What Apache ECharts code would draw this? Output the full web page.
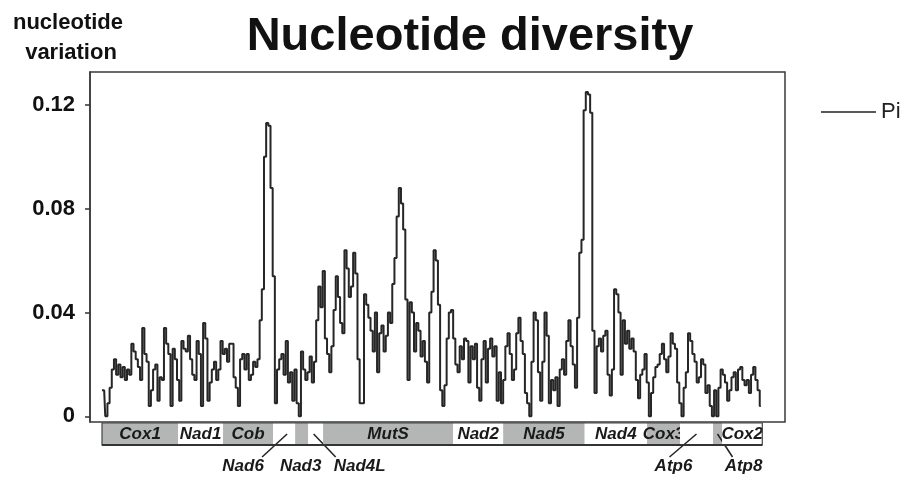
<!DOCTYPE html>
<html>
<head>
<meta charset="utf-8">
<title>Nucleotide diversity</title>
<script src="https://cdn.jsdelivr.net/npm/echarts@6/dist/echarts.min.js"></script>
<style>
  html, body { margin: 0; padding: 0; background: #fff; }
  #chart { width: 901px; height: 477px; }
</style>
</head>
<body>
<div id="chart"></div>
<script>
// sliding window Pi, one window every 60 bp along the mitogenome
const windowStep = 60
const pi = [
  0.010, 0.010, 0.000, 0.005, 0.011, 0.018, 0.022, 0.016, 0.020,
  0.015, 0.019, 0.014, 0.018, 0.016, 0.028, 0.025, 0.022, 0.019, 0.014,
  0.034, 0.024, 0.021, 0.004, 0.010, 0.018, 0.020, 0.006, 0.015, 0.014,
  0.034, 0.028, 0.024, 0.004, 0.026, 0.022, 0.014, 0.006, 0.029, 0.026,
  0.025, 0.031, 0.022, 0.016, 0.014, 0.029, 0.024, 0.004, 0.036, 0.030,
  0.006, 0.013, 0.018, 0.021, 0.014, 0.018, 0.029, 0.024, 0.026, 0.021,
  0.028,
  0.028, 0.015, 0.011, 0.004, 0.022, 0.024, 0.018, 0.024, 0.014, 0.016,
  0.021, 0.019, 0.022, 0.037, 0.049, 0.100, 0.113, 0.112, 0.088, 0.054,
  0.005, 0.018, 0.022, 0.024, 0.016, 0.029, 0.013, 0.017, 0.006, 0.018,
  0.005, 0.000, 0.025, 0.018, 0.014, 0.017, 0.023, 0.013, 0.021, 0.037,
  0.050, 0.042, 0.056, 0.030, 0.024, 0.017, 0.027, 0.041, 0.054, 0.046,
  0.036, 0.032, 0.064, 0.057, 0.046, 0.050, 0.063, 0.055, 0.022, 0.005,
  0.005, 0.047, 0.043, 0.038, 0.033, 0.025, 0.040, 0.017, 0.032, 0.035,
  0.025, 0.031, 0.040, 0.036, 0.051, 0.061, 0.077, 0.088, 0.082, 0.072,
  0.045, 0.014, 0.044, 0.040, 0.025, 0.036, 0.033, 0.023, 0.029, 0.021,
  0.013, 0.040, 0.048, 0.064, 0.060, 0.043, 0.010, 0.004, 0.012, 0.030,
  0.040, 0.041, 0.030, 0.020, 0.017, 0.027, 0.022, 0.030, 0.029, 0.013,
  0.027, 0.022, 0.028, 0.011, 0.006, 0.022, 0.029, 0.013, 0.026, 0.030,
  0.023,
  0.027, 0.006, 0.017, 0.005, 0.014, 0.027, 0.032, 0.024, 0.014, 0.018,
  0.032, 0.038, 0.029, 0.024, 0.009, 0.005, 0.000, 0.021, 0.040, 0.037,
  0.017, 0.006, 0.021, 0.040, 0.031, 0.005, 0.014, 0.010, 0.015, 0.004,
  0.018, 0.022, 0.016, 0.029, 0.037, 0.027, 0.020, 0.011, 0.038, 0.063,
  0.068, 0.118, 0.125, 0.124, 0.117, 0.033, 0.009, 0.027, 0.030, 0.025,
  0.031, 0.033, 0.016, 0.008, 0.018, 0.049, 0.047, 0.040, 0.016, 0.037,
  0.028,
  0.033, 0.026, 0.030, 0.025, 0.014, 0.007, 0.016, 0.018, 0.024, 0.013,
  0.000, 0.009, 0.015, 0.019, 0.020, 0.024, 0.028, 0.022, 0.017, 0.023,
  0.032, 0.028, 0.026, 0.013, 0.005, 0.000, 0.011, 0.017, 0.032, 0.029,
  0.024, 0.021, 0.013, 0.015, 0.022, 0.020, 0.009, 0.012, 0.004, 0.000,
  0.010, 0.000, 0.011, 0.018, 0.016, 0.013, 0.006, 0.010, 0.015, 0.017,
  0.010, 0.018, 0.019, 0.014, 0.012, 0.014, 0.009, 0.016, 0.019, 0.014,
  0.010, 0.004
]

const yTicks = [0, 0.04, 0.08, 0.12]
const yTickLabels = ['0', '0.04', '0.08', '0.12']

// gene map (bp)
const geneNames = ['Cox1', 'Nad1', 'Cob', 'Nad6', 'Nad3', 'Nad4L', 'MutS', 'Nad2', 'Nad5', 'Nad4', 'Cox3', 'Atp6', 'Atp8', 'Cox2']
const geneStart = [0, 2100, 3340, 4720, 5330, 5690, 6100, 9690, 11070, 13320, 15040, 15950, 16860, 17110]
const geneEnd = [2100, 3340, 4720, 5330, 5690, 6100, 9690, 11070, 13320, 15040, 15950, 16860, 17110, 18220]

// short genes get their name below the bar (offsets from segment centre, px)
const outsideLabels = {
  Nad6: { line: [3, -22], text: -41 },
  Nad3: { text: -1 },
  Nad4L: { line: [-2, 20], text: 44 },
  Atp6: { line: [0, -27], text: -23 },
  Atp8: { line: [0, 15], text: 26 }
}

const FONT = '"Liberation Sans", Arial, Helvetica, sans-serif'
const xMin = -331
const xMax = 18847

const chart = echarts.init(document.getElementById('chart'), null, { renderer: 'canvas' })

chart.setOption({
  animation: false,
  backgroundColor: '#fff',
  graphic: [
    { type: 'text', x: 470, y: 37, style: { text: 'Nucleotide diversity', font: 'bold 47px ' + FONT, fill: '#111', align: 'center', verticalAlign: 'middle' } },
    { type: 'text', x: 68, y: 23, style: { text: 'nucleotide', font: 'bold 22px ' + FONT, fill: '#111', align: 'center', verticalAlign: 'middle' } },
    { type: 'text', x: 71, y: 53, style: { text: 'variation', font: 'bold 22px ' + FONT, fill: '#111', align: 'center', verticalAlign: 'middle' } }
  ],
  legend: {
    data: ['Pi'],
    left: 816,
    top: 96,
    icon: 'rect',
    itemWidth: 55,
    itemHeight: 1.5,
    textStyle: { fontSize: 22, fontFamily: FONT, color: '#222' }
  },
  grid: [
    { left: 90, right: 116, top: 72, bottom: 55, show: true, borderColor: '#3a3a3a', borderWidth: 1.5 },
    { left: 90, right: 116, top: 423, height: 22 }
  ],
  xAxis: [
    { type: 'value', gridIndex: 0, min: xMin, max: xMax, show: false },
    { type: 'value', gridIndex: 1, min: xMin, max: xMax, show: false }
  ],
  yAxis: [
    {
      type: 'value',
      gridIndex: 0,
      min: -0.0022,
      max: 0.1327,
      splitLine: { show: false },
      axisLine: { show: true, onZero: false, lineStyle: { color: '#3a3a3a', width: 1.5 } },
      axisTick: { show: true, inside: false, length: 5, customValues: yTicks, lineStyle: { color: '#333', width: 1.5 } },
      axisLabel: {
        customValues: yTicks,
        formatter: v => {
          const i = yTicks.findIndex(t => Math.abs(t - v) < 1e-9)
          return i >= 0 ? yTickLabels[i] : ''
        },
        fontSize: 22,
        fontWeight: 'bold',
        fontFamily: FONT,
        color: '#111',
        margin: 15
      }
    },
    { type: 'value', gridIndex: 1, min: 0, max: 1, show: false }
  ],
  series: [
    {
      name: 'Pi',
      type: 'line',
      step: 'middle',
      symbol: 'none',
      color: '#222',
      xAxisIndex: 0,
      yAxisIndex: 0,
      lineStyle: { color: '#262626', width: 2 },
      data: pi.map((v, i) => [i * windowStep, v])
    },
    {
      type: 'custom',
      xAxisIndex: 1,
      yAxisIndex: 1,
      clip: false,
      silent: true,
      data: geneNames.map((n, i) => [geneStart[i], geneEnd[i]]),
      renderItem(params, api) {
        const s = api.coord([api.value(0), 1])
        const e = api.coord([api.value(1), 0])
        const name = geneNames[params.dataIndex]
        const w = e[0] - s[0]
        const h = e[1] - s[1]
        const cx = s[0] + w / 2
        const cy = s[1] + h / 2
        const font = 'italic bold 17px ' + FONT
        const children = [{
          type: 'rect',
          shape: { x: s[0], y: s[1], width: w, height: h },
          style: { fill: params.dataIndex % 2 ? '#ffffff' : '#b4b6b6' }
        }]
        const out = outsideLabels[name]
        if (!out) {
          children.push({ type: 'text', style: { text: name, x: cx, y: cy, align: 'center', verticalAlign: 'middle', font, fill: '#1a1a1a' } })
        } else {
          if (out.line) {
            children.push({ type: 'line', shape: { x1: cx + out.line[0], y1: cy, x2: cx + out.line[1], y2: e[1] + 12 }, style: { stroke: '#222', lineWidth: 1.5 } })
          }
          children.push({ type: 'text', style: { text: name, x: cx + out.text, y: e[1] + 21, align: 'center', verticalAlign: 'middle', font, fill: '#1a1a1a' } })
        }
        return { type: 'group', children }
      }
    },
    {
      // frame round the gene bar
      type: 'custom',
      xAxisIndex: 1,
      yAxisIndex: 1,
      clip: false,
      silent: true,
      z: 5,
      data: [[geneStart[0], geneEnd[geneEnd.length - 1]]],
      renderItem(params, api) {
        const s = api.coord([api.value(0), 1])
        const e = api.coord([api.value(1), 0])
        return {
          type: 'group',
          children: [
            { type: 'rect', shape: { x: s[0], y: s[1], width: e[0] - s[0], height: e[1] - s[1] }, style: { fill: 'none', stroke: '#444', lineWidth: 1.2 } },
            { type: 'line', shape: { x1: s[0], y1: e[1], x2: e[0], y2: e[1] }, style: { stroke: '#333', lineWidth: 2.2 } }
          ]
        }
      }
    }
  ]
})
</script>
</body>
</html>
